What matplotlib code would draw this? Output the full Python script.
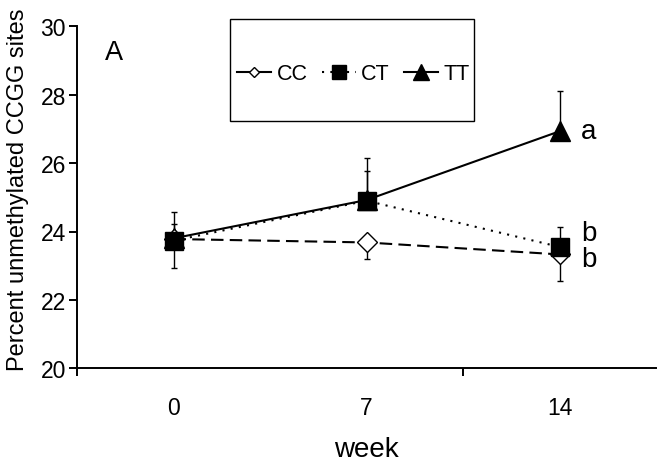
import matplotlib
matplotlib.use("Agg")
import matplotlib.pyplot as plt
from matplotlib.lines import Line2D
from matplotlib.patches import Rectangle

plt.rcParams['font.family'] = ['Liberation Sans', 'DejaVu Sans']

# data
weeks = ['0', '7', '14']
cc = [23.78, 23.68, 23.33]
ct = [23.73, 24.90, 23.55]
tt = [23.80, 24.92, 26.93]
cc_minus = [0.85, 0.48, 0.77]   # CC only has the lower bar
ct_plus = [0.49, 0.88, 0.59]    # CT / TT only the upper bar
tt_plus = [0.78, 1.22, 1.17]
groups = ['CC', 'CT', 'TT']
letters = {'TT': 'a', 'CT': 'b', 'CC': 'b'}

x = list(range(len(weeks)))
zeros = [0] * len(weeks)

fig = plt.figure(figsize=(6.62, 4.64), dpi=100)
ax = fig.add_axes([77 / 662, 1 - 369.3 / 464, 579 / 662, 342 / 464])

# error bars under the markers
ax.errorbar(x, cc, yerr=[cc_minus, zeros], fmt='none', ecolor='black', elinewidth=1, capsize=2.5, capthick=1, zorder=1)
ax.errorbar(x, ct, yerr=[zeros, ct_plus], fmt='none', ecolor='black', elinewidth=1, capsize=2.5, capthick=1, zorder=1)
ax.errorbar(x, tt, yerr=[zeros, tt_plus], fmt='none', ecolor='black', elinewidth=1, capsize=2.5, capthick=1, zorder=1)

ax.plot(x, tt, color='black', lw=1.5, marker='^', ms=14, mfc='black', mec='black', zorder=2)
ax.plot(x, cc, color='black', lw=1.5, dashes=(6, 3), marker='D', ms=10, mfc='white', mec='black', mew=1, zorder=3)
ax.plot(x, ct, color='black', lw=1.5, dashes=(1, 3), marker='s', ms=13.5, mfc='black', mec='black', zorder=4)

# letters next to week 14
ax.annotate(letters['TT'], (x[-1], tt[-1]), xytext=(21, 0), textcoords='offset points', ha='center', va='center', fontsize=20)
ax.annotate(letters['CT'], (x[-1], ct[-1]), xytext=(21, 9.7), textcoords='offset points', ha='center', va='center', fontsize=20)
ax.annotate(letters['CC'], (x[-1], cc[-1]), xytext=(21, -3.2), textcoords='offset points', ha='center', va='center', fontsize=20)

ax.text(0.064, 0.925, 'A', transform=ax.transAxes, ha='center', va='center', fontsize=19.5)

ax.set_xlim(-0.5, 2.5)
ax.set_ylim(20, 30)
ax.set_yticks([20, 22, 24, 26, 28, 30])
ax.set_xticks(x, weeks)
ax.set_xticks([-0.5, 1.5], minor=True)
ax.tick_params(axis='x', which='major', length=0, pad=20, labelsize=16.5)
ax.tick_params(axis='x', which='minor', direction='out', length=6, width=1.4)
ax.tick_params(axis='y', direction='out', length=6, width=1.4, pad=2, labelsize=16.5)
for s in ['top', 'right']:
    ax.spines[s].set_visible(False)
for s in ['left', 'bottom']:
    ax.spines[s].set_linewidth(1.4)

ax.set_xlabel('week', fontsize=20, labelpad=12)
fig.text(18 / 662, 1 - 190 / 464, 'Percent unmethylated CCGG sites', rotation=90, ha='center', va='center', fontsize=17)

# legend in its own box
fig.patches.append(Rectangle((230 / 662, 1 - 122 / 464), 244 / 662, 102 / 464, transform=fig.transFigure,
                             fill=False, edgecolor='black', lw=1))
handles = [
    Line2D([], [], color='black', lw=1.5, marker='D', ms=5.5, mfc='white', mec='black'),
    Line2D([], [], color='black', lw=1.5, dashes=(1, 3), marker='s', ms=9.5, mfc='black', mec='black'),
    Line2D([], [], color='black', lw=1.5, marker='^', ms=11.5, mfc='black', mec='black'),
]
fig.legend(handles, groups, loc='center', bbox_to_anchor=(353.5 / 662, 1 - 75 / 464), ncol=3, frameon=False,
           fontsize=15.5, handlelength=1.58, handletextpad=0.25, columnspacing=0.65, borderpad=0)

fig.savefig('out.png', dpi=100)
